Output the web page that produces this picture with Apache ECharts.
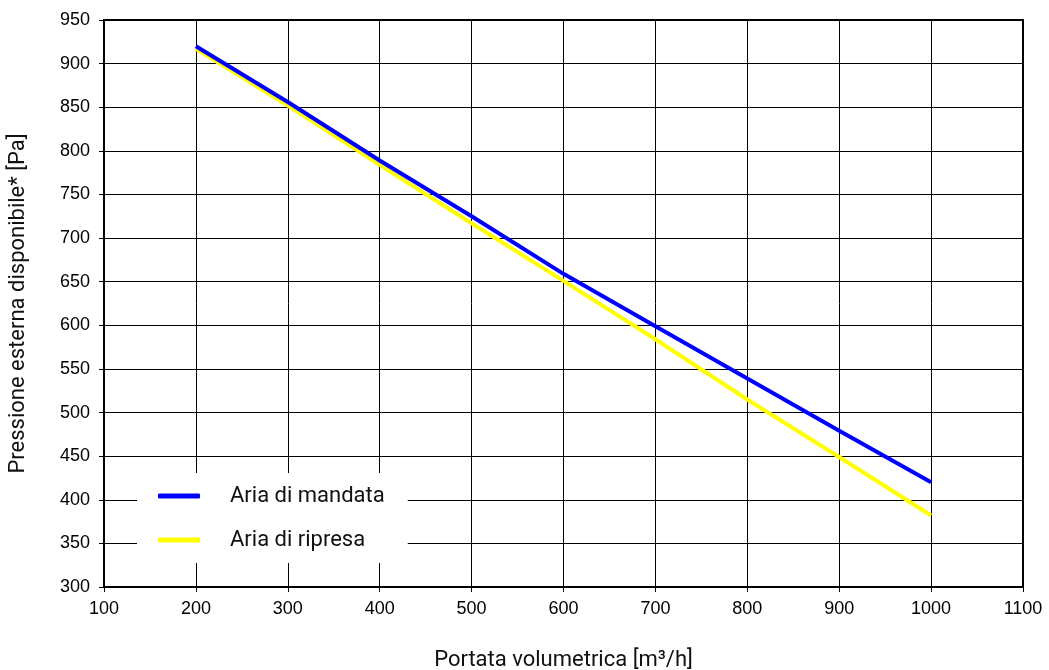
<!DOCTYPE html>
<html>
<head>
<meta charset="utf-8">
<script src="https://cdn.jsdelivr.net/npm/echarts@6/dist/echarts.min.js"></script>
<style>html,body{margin:0;padding:0;background:#fff}#c{width:1049px;height:670px}</style>
</head>
<body>
<div id="c"></div>
<script>
const flow = [200, 300, 400, 500, 600, 700, 800, 900, 1000];
const mandata = [920, 856, 789, 725, 659, 599, 539, 479, 420];
const ripresa = [917, 852, 784, 717, 651, 584, 515, 449, 382];
const seriesNames = ['Aria di mandata', 'Aria di ripresa'];
const xTitle = 'Portata volumetrica [m³/h]';
const yTitle = 'Pressione esterna disponibile* [Pa]';

const toPairs = (xs, ys) => xs.map((x, i) => [x, ys[i]]);
const chart = echarts.init(document.getElementById('c'), null, {renderer: 'canvas'});
const axisFont = {fontFamily: 'Liberation Sans, Arial, sans-serif', fontSize: 18, color: '#000'};
const titleFont = {fontFamily: 'Roboto, sans-serif', fontSize: 22, color: '#111'};
chart.setOption({
  animation: false,
  backgroundColor: '#fff',
  grid: {left: 104, right: 26, top: 20, bottom: 83, show: true, borderColor: '#000', borderWidth: 2,
         containLabel: false, outerBoundsMode: 'none'},
  xAxis: {
    type: 'value', min: 100, max: 1100, interval: 100,
    name: xTitle, nameLocation: 'middle', nameGap: 62, nameTextStyle: titleFont,
    axisLine: {show: true, lineStyle: {color: '#000', width: 2}},
    axisTick: {show: true, length: 5, lineStyle: {color: '#000'}},
    axisLabel: Object.assign({margin: 13, formatter: v => String(v)}, axisFont),
    splitLine: {show: true, lineStyle: {color: '#000', width: 1}}
  },
  yAxis: {
    type: 'value', min: 300, max: 950, interval: 50,
    name: yTitle, nameLocation: 'middle', nameGap: 75, nameTextStyle: titleFont,
    axisLine: {show: true, lineStyle: {color: '#000', width: 2}},
    axisTick: {show: true, length: 5, lineStyle: {color: '#000'}},
    axisLabel: Object.assign({margin: 14, formatter: v => String(v)}, axisFont),
    splitLine: {show: true, lineStyle: {color: '#000', width: 1}}
  },
  legend: {
    data: seriesNames,
    orient: 'vertical', left: 137, top: 473,
    backgroundColor: '#fff',
    padding: [11, 23, 11, 21],
    itemWidth: 42, itemHeight: 5, itemGap: 20,
    icon: 'roundRect',
    textStyle: {fontFamily: 'Roboto, sans-serif', fontSize: 22, color: '#111', lineHeight: 24, padding: [0, 0, 0, 25]}
  },
  series: [
    {name: seriesNames[1], type: 'line', data: toPairs(flow, ripresa), showSymbol: false, symbol: 'none',
     lineStyle: {color: '#ffff00', width: 4}, itemStyle: {color: '#ffff00'}, z: 3},
    {name: seriesNames[0], type: 'line', data: toPairs(flow, mandata), showSymbol: false, symbol: 'none',
     lineStyle: {color: '#0000ff', width: 4}, itemStyle: {color: '#0000ff'}, z: 4}
  ]
});
</script>
</body>
</html>
